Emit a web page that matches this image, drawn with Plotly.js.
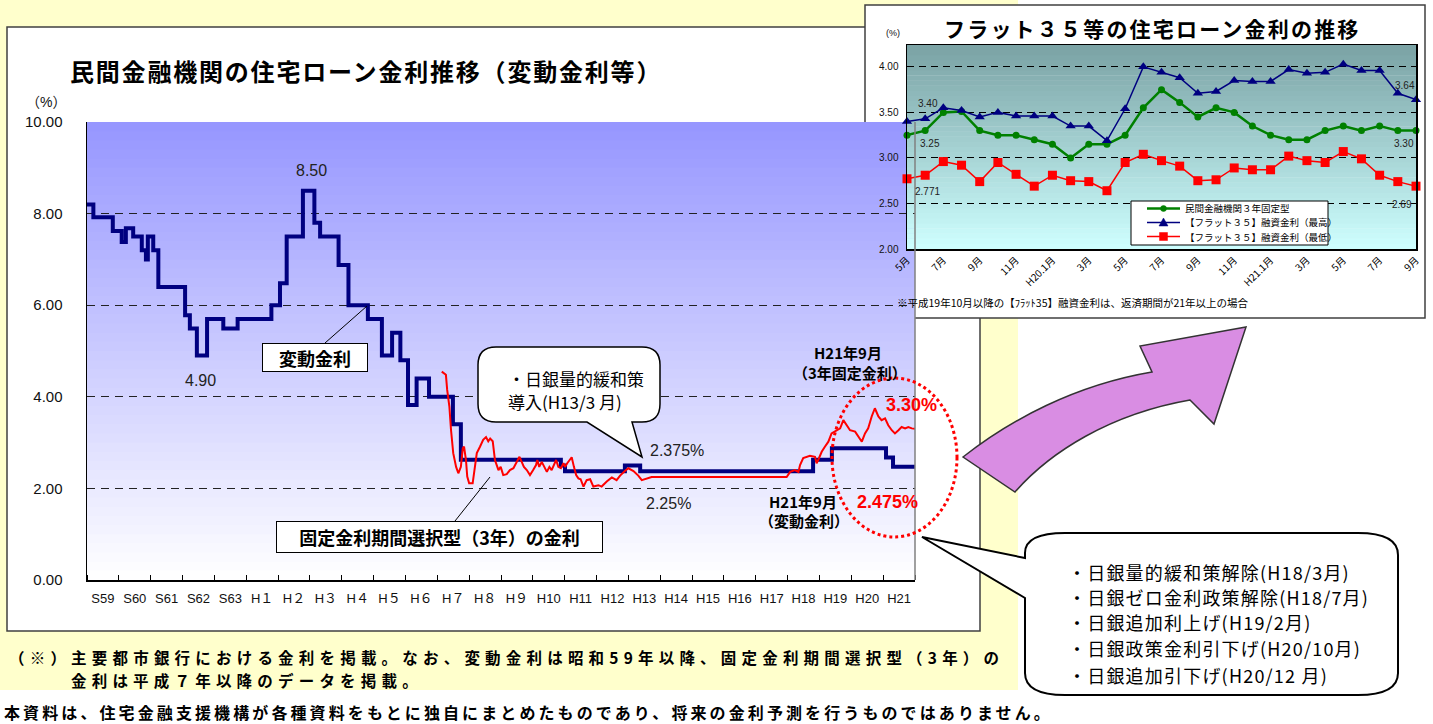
<!DOCTYPE html>
<html><head><meta charset="utf-8">
<script src="https://cdn.plot.ly/plotly-3.0.1.min.js"></script>
<style>html,body{margin:0;padding:0;background:#fff;}#chart{width:1433px;height:724px;}</style>
</head><body><div id="chart"></div>
<script>
// ---------- DATA ----------
const yearLabels = ['S59','S60','S61','S62','S63','H１','H２','H３','H４','H５','H６','H７','H８','H９','H10','H11','H12','H13','H14','H15','H16','H17','H18','H19','H20','H21'];

// 変動金利 (change points, decimal year)
const varYears = [1984.00,1984.20,1984.81,1985.09,1985.22,1985.45,1985.72,1985.85,1985.91,1986.08,1986.24,1987.08,1987.23,1987.45,1987.77,1988.28,1988.73,1989.79,1990.06,1990.27,1990.78,1991.14,1991.32,1991.90,1992.21,1992.82,1993.26,1993.58,1993.84,1994.08,1994.35,1994.74,1995.49,1995.74,1998.88,1999.01,2000.89,2001.37,2006.80,2007.39,2009.09,2009.31,2010.00];
const varRates = [8.20,7.92,7.62,7.38,7.68,7.50,7.20,7.00,7.50,7.20,6.40,5.78,5.49,4.90,5.70,5.49,5.70,6.00,6.48,7.50,8.50,7.80,7.50,6.88,6.00,5.70,4.90,5.40,4.80,3.82,4.40,4.00,3.40,2.625,2.50,2.375,2.50,2.375,2.625,2.875,2.675,2.475,2.475];

// 固定金利期間選択型（3年）
const fixYears = [1995.14,1995.27,1995.31,1995.38,1995.43,1995.50,1995.59,1995.66,1995.74,1995.80,
1995.84,1995.90,1995.94,1996.00,1996.11,1996.18,1996.24,1996.34,1996.44,1996.53,
1996.60,1996.66,1996.74,1996.81,1996.92,1996.99,1997.07,1997.18,1997.28,1997.39,
1997.47,1997.58,1997.65,1997.72,1997.81,1997.91,1998.01,1998.10,1998.14,1998.20,
1998.28,1998.35,1998.44,1998.52,1998.59,1998.66,1998.73,1998.80,1998.88,1998.96,
1999.01,1999.08,1999.17,1999.22,1999.29,1999.36,1999.43,1999.50,1999.59,1999.69,
1999.80,1999.90,2000.06,2000.16,2000.32,2000.48,2000.63,2000.74,2000.89,2001.00,
2001.16,2001.31,2001.42,2001.58,2001.73,2001.84,2005.97,2006.08,2006.23,2006.34,
2006.39,2006.49,2006.70,2006.86,2006.91,2006.96,2007.07,2007.17,2007.28,2007.38,
2007.49,2007.65,2007.75,2007.86,2007.96,2008.12,2008.22,2008.33,2008.43,2008.53,
2008.64,2008.74,2008.85,2008.95,2009.06,2009.16,2009.27,2009.37,2009.48,2009.58,
2009.69,2009.79,2009.90,2010.00];
const fixRates = [4.55,4.48,4.15,3.78,3.28,2.77,2.47,2.33,2.47,2.88,
2.91,2.62,2.26,2.11,2.11,2.47,2.77,2.91,3.06,3.12,
3.03,3.09,3.03,2.62,2.40,2.47,2.29,2.31,2.40,2.44,
2.55,2.69,2.58,2.47,2.40,2.29,2.40,2.51,2.62,2.47,
2.58,2.47,2.36,2.47,2.40,2.51,2.62,2.47,2.44,2.55,
2.47,2.55,2.62,2.68,2.47,2.29,2.22,2.20,2.04,2.18,
2.20,2.04,2.07,2.04,2.15,2.24,2.18,2.28,2.38,2.44,
2.38,2.28,2.18,2.22,2.25,2.25,2.25,2.36,2.40,2.36,
2.51,2.66,2.71,2.69,2.55,2.62,2.80,2.91,3.02,3.20,
3.24,3.31,3.49,3.38,3.27,3.24,3.13,3.02,3.20,3.31,
3.57,3.75,3.57,3.49,3.53,3.38,3.27,3.20,3.27,3.34,
3.31,3.34,3.31,3.30];

// Inset: フラット35等
const insetMonths = ['H19.5','H19.6','H19.7','H19.8','H19.9','H19.10','H19.11','H19.12','H20.1','H20.2','H20.3','H20.4','H20.5','H20.6','H20.7','H20.8','H20.9','H20.10','H20.11','H20.12','H21.1','H21.2','H21.3','H21.4','H21.5','H21.6','H21.7','H21.8','H21.9'];
const insetTickText = ['5月','7月','9月','11月','H20.1月','3月','5月','7月','9月','11月','H21.1月','3月','5月','7月','9月'];
const fixed3Rates = [3.25,3.30,3.50,3.51,3.30,3.25,3.25,3.20,3.15,3.00,3.15,3.15,3.25,3.55,3.75,3.61,3.45,3.55,3.50,3.35,3.25,3.20,3.20,3.30,3.35,3.30,3.35,3.30,3.30];
const flatMaxRates = [3.40,3.43,3.55,3.52,3.45,3.50,3.46,3.46,3.46,3.35,3.35,3.19,3.54,4.00,3.94,3.88,3.71,3.73,3.85,3.84,3.84,3.97,3.93,3.94,4.03,3.96,3.96,3.71,3.64];
const flatMinRates = [2.771,2.81,2.96,2.92,2.74,2.95,2.82,2.69,2.81,2.75,2.74,2.64,2.95,3.04,2.97,2.91,2.75,2.76,2.89,2.87,2.87,3.02,2.97,2.95,3.07,2.99,2.81,2.74,2.69];
const insetSeriesNames = ['民間金融機関３年固定型','【フラット３５】融資金利（最高）','【フラット３５】融資金利（最低）'];
const insetColors = ['#008000','#000080','#FF0000'];

// ---------- HELPERS ----------
const W = 1433, H = 724;
const PX = x => x / W, PY = y => 1 - y / H;
const pt = (x, y) => PX(x).toFixed(5) + ',' + PY(y).toFixed(5);
const JP = '"Noto Sans CJK JP", "Noto Sans", sans-serif';
const NUM = '"Liberation Sans", Arial, "Noto Sans CJK JP", sans-serif';

function ann(text, x, y, o) {
  return Object.assign({text: text, x: PX(x), y: PY(y), xref: 'paper', yref: 'paper', showarrow: false,
    xanchor: 'center', yanchor: 'middle', font: {family: JP, size: 15, color: '#000'}}, o || {});
}

// ---------- TRACES ----------
const data = [
  {type: 'scatter', mode: 'lines', x: varYears, y: varRates, xaxis: 'x', yaxis: 'y',
   line: {color: '#000080', width: 4, shape: 'hv'}, showlegend: false, hoverinfo: 'skip'},
  {type: 'scatter', mode: 'lines', x: fixYears, y: fixRates, xaxis: 'x', yaxis: 'y',
   line: {color: '#FF0000', width: 2}, showlegend: false, hoverinfo: 'skip'},
  {type: 'scatter', mode: 'lines+markers', x: insetMonths, y: fixed3Rates, xaxis: 'x2', yaxis: 'y2',
   name: insetSeriesNames[0], line: {color: insetColors[0], width: 2.5}, showlegend: false,
   marker: {symbol: 'circle', size: 7, color: insetColors[0]}, cliponaxis: false},
  {type: 'scatter', mode: 'lines+markers', x: insetMonths, y: flatMaxRates, xaxis: 'x2', yaxis: 'y2',
   name: insetSeriesNames[1], line: {color: insetColors[1], width: 1.5}, showlegend: false,
   marker: {symbol: 'triangle-up', size: 9, color: insetColors[1]}, cliponaxis: false},
  {type: 'scatter', mode: 'lines+markers', x: insetMonths, y: flatMinRates, xaxis: 'x2', yaxis: 'y2',
   name: insetSeriesNames[2], line: {color: insetColors[2], width: 1.5}, showlegend: false,
   marker: {symbol: 'square', size: 9, color: insetColors[2]}, cliponaxis: false}
];

// ---------- SHAPES ----------
const shapes = [
  {type: 'rect', xref: 'paper', yref: 'paper', x0: 0, x1: PX(1018), y0: PY(690), y1: 1,
   fillcolor: '#FFFFCC', line: {width: 0}, layer: 'below'},
  {type: 'rect', xref: 'paper', yref: 'paper', x0: PX(7), x1: PX(980), y0: PY(631), y1: PY(27),
   fillcolor: '#FFFFFF', line: {color: '#404040', width: 1.5}, layer: 'below'},
  {type: 'rect', xref: 'paper', yref: 'paper', x0: PX(865), x1: PX(1425), y0: PY(318), y1: PY(5),
   fillcolor: '#FFFFFF', line: {color: '#404040', width: 1.5}, layer: 'below'}
];
const NB = 50;
for (let i = 0; i < NB; i++) {
  const f = (i + 0.5) / NB;
  const c = Math.round(255 - f * (255 - 150));
  shapes.push({type: 'rect', xref: 'x domain', yref: 'y', x0: 0, x1: 1, y0: i * 10 / NB, y1: (i + 1) * 10 / NB + 0.02,
    fillcolor: `rgb(${c},${c},255)`, line: {width: 0}, layer: 'below'});
}
const NB2 = 40, y2lo = 2.0, y2hi = 4.24;
for (let i = 0; i < NB2; i++) {
  const f = (i + 0.5) / NB2;
  const r = Math.round(206 - f * (206 - 122)), g = Math.round(255 - f * (255 - 162)), b = Math.round(255 - f * (255 - 164));
  const s = (y2hi - y2lo) / NB2;
  shapes.push({type: 'rect', xref: 'x2 domain', yref: 'y2', x0: 0, x1: 1, y0: y2lo + i * s, y1: y2lo + (i + 1) * s + 0.005,
    fillcolor: `rgb(${r},${g},${b})`, line: {width: 0}, layer: 'below'});
}
shapes.push({type: 'line', xref: 'x domain', yref: 'y domain', x0: 1, x1: 1, y0: 0, y1: 1,
  line: {color: '#808080', width: 1.5}});
shapes.push({type: 'line', xref: 'paper', yref: 'paper', x0: PX(325), y0: PY(343), x1: PX(367), y1: PY(306), line: {color: '#000', width: 1}});
shapes.push({type: 'line', xref: 'paper', yref: 'paper', x0: PX(455), y0: PY(521), x1: PX(490), y1: PY(477), line: {color: '#000', width: 1}});
shapes.push({type: 'path', xref: 'paper', yref: 'paper', layer: 'above',
  path: `M${pt(496,347)} L${pt(642,347)} Q${pt(660,347)} ${pt(660,365)} L${pt(660,404)} Q${pt(660,422)} ${pt(642,422)} L${pt(632,422)} L${pt(642,457)} L${pt(587,422)} L${pt(496,422)} Q${pt(478,422)} ${pt(478,404)} L${pt(478,365)} Q${pt(478,347)} ${pt(496,347)} Z`,
  fillcolor: '#FFFFFF', line: {color: '#000', width: 1.5}});
shapes.push({type: 'circle', xref: 'paper', yref: 'paper', x0: PX(832), x1: PX(957), y0: PY(537), y1: PY(378),
  line: {color: '#FF0000', width: 3, dash: 'dot'}, fillcolor: 'rgba(0,0,0,0)'});
shapes.push({type: 'path', xref: 'paper', yref: 'paper', layer: 'above',
  path: `M${pt(1065,533)} L${pt(1358,533)} Q${pt(1398,533)} ${pt(1398,555)} L${pt(1398,673)} Q${pt(1398,695)} ${pt(1358,695)} L${pt(1065,695)} Q${pt(1025,695)} ${pt(1025,673)} L${pt(1025,598)} L${pt(922,537)} L${pt(1025,558)} L${pt(1025,553)} Q${pt(1025,533)} ${pt(1065,533)} Z`,
  fillcolor: '#FFFFFF', line: {color: '#000', width: 2}});
shapes.push({type: 'path', xref: 'paper', yref: 'paper', layer: 'above',
  path: `M${pt(963,457)} C${pt(1010,420)} ${pt(1075,385)} ${pt(1152,372)} L${pt(1140,346)} L${pt(1246,327)} L${pt(1214,424)} L${pt(1190,400)} C${pt(1110,414)} ${pt(1050,452)} ${pt(1015,492)} Z`,
  fillcolor: '#D98DE3', line: {color: '#333', width: 1.5}});
// inset legend (box + symbols)
const legRows = [208.5, 222.5, 236.5];
shapes.push({type: 'rect', xref: 'paper', yref: 'paper', x0: PX(1131), x1: PX(1328), y0: PY(245), y1: PY(201),
  fillcolor: '#FFFFFF', line: {color: '#000', width: 1}, layer: 'above'});
legRows.forEach((ly, i) => {
  shapes.push({type: 'line', xref: 'paper', yref: 'paper', x0: PX(1147), x1: PX(1180), y0: PY(ly), y1: PY(ly),
    line: {color: insetColors[i], width: i === 0 ? 2.5 : 1.5}, layer: 'above'});
});
shapes.push({type: 'circle', xref: 'paper', yref: 'paper', x0: PX(1160.5), x1: PX(1166.5), y0: PY(legRows[0] + 3), y1: PY(legRows[0] - 3),
  fillcolor: insetColors[0], line: {color: insetColors[0], width: 0.5}, layer: 'above'});
shapes.push({type: 'path', xref: 'paper', yref: 'paper', path: `M${pt(1163.5,legRows[1] - 4.5)} L${pt(1168,legRows[1] + 3.5)} L${pt(1159,legRows[1] + 3.5)} Z`,
  fillcolor: insetColors[1], line: {color: insetColors[1], width: 0.5}, layer: 'above'});
shapes.push({type: 'rect', xref: 'paper', yref: 'paper', x0: PX(1159.5), x1: PX(1167.5), y0: PY(legRows[2] + 4), y1: PY(legRows[2] - 4),
  fillcolor: insetColors[2], line: {color: insetColors[2], width: 0.5}, layer: 'above'});

// ---------- ANNOTATIONS ----------
const B = 700;
const annotations = [
  ann('民間金融機関の住宅ローン金利推移（変動金利等）', 68, 70, {xanchor: 'left', align: 'left', font: {family: JP, size: 24, weight: B, color: '#000'}}),
  ann('（%）', 46, 102, {font: {family: NUM, size: 14, color: '#111'}}),
  ann('8.50', 311, 170, {font: {family: NUM, size: 16, color: '#222'}}),
  ann('4.90', 200, 380, {font: {family: NUM, size: 16, color: '#222'}}),
  ann('2.375%', 677, 450, {font: {family: NUM, size: 16, color: '#222'}}),
  ann('2.25%', 668, 503, {font: {family: NUM, size: 16, color: '#222'}}),
  ann('変動金利', 315, 357.5, {width: 104, height: 27, borderpad: 0, bordercolor: '#000', borderwidth: 1, bgcolor: '#FFFFFF',
    font: {family: JP, size: 18, weight: B, color: '#000'}}),
  ann('固定金利期間選択型（3年）の金利', 439.5, 537, {width: 325, height: 30, borderpad: 0, bordercolor: '#000', borderwidth: 1, bgcolor: '#FFFFFF',
    font: {family: JP, size: 18, weight: B, color: '#000'}}),
  ann('・日銀量的緩和策', 506, 378, {xanchor: 'left', align: 'left', font: {family: JP, size: 17, color: '#000'}}),
  ann('導入(H13/3 月)', 506, 401, {xanchor: 'left', align: 'left', font: {family: JP, size: 17, color: '#000'}}),
  ann('H21年9月', 848, 353, {font: {family: JP, size: 15, weight: B, color: '#000'}}),
  ann('（3年固定金利）', 850, 372, {font: {family: JP, size: 15, weight: B, color: '#000'}}),
  ann('3.30%', 911, 405, {font: {family: NUM, size: 18, weight: B, color: '#FF0000'}}),
  ann('H21年9月', 803, 501, {font: {family: JP, size: 15, weight: B, color: '#000'}}),
  ann('（変動金利）', 804, 520, {font: {family: JP, size: 15, weight: B, color: '#000'}}),
  ann('2.475%', 887, 502, {font: {family: NUM, size: 18, weight: B, color: '#FF0000'}}),
  ann('・日銀量的緩和策解除(H18/3月)', 1066, 572, {xanchor: 'left', align: 'left', font: {family: JP, size: 18, color: '#000'}}),
  ann('・日銀ゼロ金利政策解除(H18/7月)', 1066, 597, {xanchor: 'left', align: 'left', font: {family: JP, size: 18, color: '#000'}}),
  ann('・日銀追加利上げ(H19/2月)', 1066, 622, {xanchor: 'left', align: 'left', font: {family: JP, size: 18, color: '#000'}}),
  ann('・日銀政策金利引下げ(H20/10月)', 1066, 648, {xanchor: 'left', align: 'left', font: {family: JP, size: 18, color: '#000'}}),
  ann('・日銀追加引下げ(H20/12 月)', 1066, 675, {xanchor: 'left', align: 'left', font: {family: JP, size: 18, color: '#000'}}),
  ann('フラット３５等の住宅ローン金利の推移', 942, 28, {xanchor: 'left', align: 'left', font: {family: JP, size: 21, weight: B, color: '#000'}}),
  ann('(%)', 893, 33, {font: {family: NUM, size: 9, color: '#111'}}),
  ann('3.40', 928, 103, {font: {family: NUM, size: 10, color: '#222'}}),
  ann('3.25', 930, 144, {font: {family: NUM, size: 10, color: '#222'}}),
  ann('2.771', 927, 191, {font: {family: NUM, size: 10, color: '#222'}}),
  ann('3.64', 1405, 85, {font: {family: NUM, size: 10, color: '#222'}}),
  ann('3.30', 1404, 144, {font: {family: NUM, size: 10, color: '#222'}}),
  ann('2.69', 1402, 204, {font: {family: NUM, size: 10, color: '#222'}}),
  ann(insetSeriesNames[0], 1183, legRows[0], {xanchor: 'left', align: 'left', font: {family: JP, size: 9.5, color: '#000'}}),
  ann(insetSeriesNames[1], 1183, legRows[1], {xanchor: 'left', align: 'left', font: {family: JP, size: 9.5, color: '#000'}}),
  ann(insetSeriesNames[2], 1183, legRows[2], {xanchor: 'left', align: 'left', font: {family: JP, size: 9.5, color: '#000'}}),
  ann('※平成19年10月以降の【ﾌﾗｯﾄ35】融資金利は、返済期間が21年以上の場合', 895, 302, {xanchor: 'left', align: 'left', font: {family: JP, size: 10.5, color: '#000'}}),
  ann('（※）主要都市銀行における金利を掲載。なお、変動金利は昭和59年以降、固定金利期間選択型（3年）の', 8, 657, {xanchor: 'left', align: 'left', borderpad: 0, font: {family: JP, size: 15.5, weight: B, color: '#000'}}),
  ann('金利は平成７年以降のデータを掲載。', 70, 679.5, {xanchor: 'left', align: 'left', borderpad: 0, font: {family: JP, size: 15.5, weight: B, color: '#000'}}),
  ann('本資料は、住宅金融支援機構が各種資料をもとに独自にまとめたものであり、将来の金利予測を行うものではありません。', 2, 712, {xanchor: 'left', align: 'left', font: {family: JP, size: 16, weight: B, color: '#000'}})
];
const letterSpacing = {
  '民間金融機関の住宅ローン金利推移（変動金利等）': 1.8,
  'フラット３５等の住宅ローン金利の推移': 2.2,
  '（※）主要都市銀行における金利を掲載。なお、変動金利は昭和59年以降、固定金利期間選択型（3年）の': 5.2,
  '金利は平成７年以降のデータを掲載。': 5.2,
  '本資料は、住宅金融支援機構が各種資料をもとに独自にまとめたものであり、将来の金利予測を行うものではありません。': 3.1,
  '・日銀量的緩和策解除(H18/3月)': 1.2,
  '・日銀ゼロ金利政策解除(H18/7月)': 1.2,
  '・日銀追加利上げ(H19/2月)': 1.2,
  '・日銀政策金利引下げ(H20/10月)': 1.2,
  '・日銀追加引下げ(H20/12 月)': 1.2
};

// ---------- LAYOUT ----------
const yearTickVals = yearLabels.map((_, i) => 1984.5 + i);
const yearBounds = yearLabels.map((_, i) => 1984 + i).concat([1984 + yearLabels.length]);

const layout = {
  width: W, height: H,
  margin: {l: 0, r: 0, t: 0, b: 0, pad: 0},
  paper_bgcolor: '#FFFFFF', plot_bgcolor: 'rgba(0,0,0,0)',
  font: {family: JP, color: '#000'},
  showlegend: false,
  xaxis: {domain: [PX(87), PX(915)], range: [1984, 2010], anchor: 'y', tickmode: 'array', tickvals: yearTickVals, ticktext: yearLabels,
    ticks: '', showgrid: false, zeroline: false, showline: true, linecolor: '#000', linewidth: 1.5,
    tickfont: {family: NUM, size: 13, color: '#111'}, ticklabelstandoff: 6, fixedrange: true,
    minor: {tickmode: 'array', tickvals: yearBounds, ticks: 'inside', ticklen: 5, tickcolor: '#000', tickwidth: 1, showgrid: false}},
  yaxis: {domain: [PY(580), PY(122)], range: [0, 10], anchor: 'x', tickmode: 'linear', tick0: 0, dtick: 2, tickformat: '.2f',
    ticks: '', showgrid: true, gridcolor: '#222', gridwidth: 1, griddash: '8px,6px', zeroline: false,
    showline: true, linecolor: '#000', linewidth: 1.5, tickfont: {family: NUM, size: 15, color: '#111'}, ticklabelstandoff: 20, fixedrange: true},
  xaxis2: {domain: [PX(907), PX(1416)], type: 'category', range: [0, 28], anchor: 'y2', tickmode: 'array',
    tickvals: insetMonths.filter((_, i) => i % 2 === 0), ticktext: insetTickText, tickangle: -45, ticks: '',
    showgrid: false, zeroline: false, showline: true, mirror: true, linecolor: '#000', linewidth: 1.5,
    tickfont: {family: JP, size: 10, color: '#000'}, fixedrange: true},
  yaxis2: {domain: [PY(249), PY(45)], range: [y2lo, y2hi], anchor: 'x2', tickmode: 'linear', tick0: 2, dtick: 0.5, tickformat: '.2f',
    ticks: '', showgrid: true, gridcolor: '#000', gridwidth: 1, griddash: '7px,5px', zeroline: false,
    showline: true, mirror: true, linecolor: '#000', linewidth: 1.5, tickfont: {family: NUM, size: 10, color: '#111'}, ticklabelstandoff: 5, fixedrange: true},
  shapes: shapes,
  annotations: annotations
};

Plotly.newPlot('chart', data, layout, {staticPlot: true, displayModeBar: false}).then(function () {
  document.querySelectorAll('.annotation-text').forEach(function (t) {
    const s = letterSpacing[t.textContent];
    if (s) t.style.letterSpacing = s + 'px';
  });
});
</script>
</body></html>
